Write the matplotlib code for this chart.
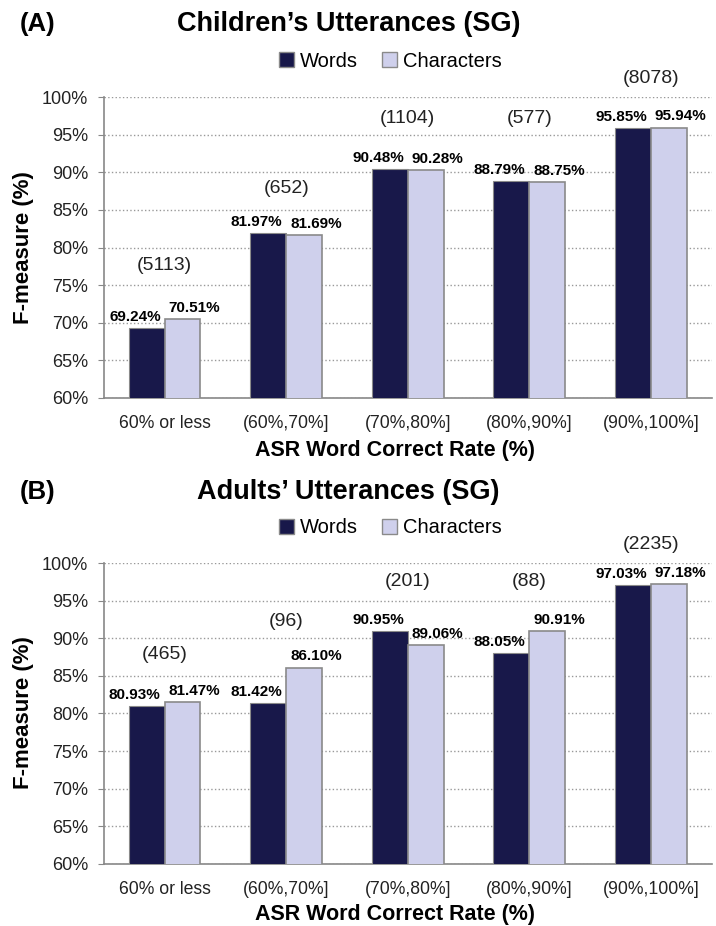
import numpy as np
import matplotlib
matplotlib.use("Agg")
import matplotlib.pyplot as plt
from matplotlib.patches import Patch

plt.rcParams['font.family'] = ['Liberation Sans', 'DejaVu Sans']

categories = ['60% or less', '(60%,70%]', '(70%,80%]', '(80%,90%]', '(90%,100%]']
series_names = ['Words', 'Characters']

children_words = [69.24, 81.97, 90.48, 88.79, 95.85]
children_chars = [70.51, 81.69, 90.28, 88.75, 95.94]
children_counts = [5113, 652, 1104, 577, 8078]

adults_words = [80.93, 81.42, 90.95, 88.05, 97.03]
adults_chars = [81.47, 86.10, 89.06, 90.91, 97.18]
adults_counts = [465, 96, 201, 88, 2235]

# where the (n) labels sit, in data units
children_count_y = [77.6, 87.8, 97.2, 97.2, 102.4]
adults_count_y = [87.9, 92.2, 97.5, 97.5, 102.4]

yticks = [60, 65, 70, 75, 80, 85, 90, 95, 100]

WORD_COL = '#18184a'
CHAR_COL = '#cfd0ec'
EDGE_COL = '#8a8a8a'

fig = plt.figure(figsize=(7.16, 9.26), dpi=100)


def draw_panel(rect, tag, title, words, chars, counts, count_y, title_y, legend_y, xlab_y, ylab_y):
    ax = fig.add_axes(rect)
    x = np.arange(len(categories))
    w = 0.295
    ax.bar(x - w / 2, words, w, color=WORD_COL, edgecolor=EDGE_COL, linewidth=0.8, zorder=3)
    ax.bar(x + w / 2, chars, w, color=CHAR_COL, edgecolor=EDGE_COL, linewidth=1.2, zorder=3)

    for i in range(len(categories)):
        ax.annotate('%.2f%%' % words[i], (x[i] - w / 2, words[i]), xytext=(-8.5, 3),
                    textcoords='offset points', ha='center', va='bottom',
                    fontsize=11, fontweight='bold')
        ax.annotate('%.2f%%' % chars[i], (x[i] + w / 2, chars[i]), xytext=(8.5, 3),
                    textcoords='offset points', ha='center', va='bottom',
                    fontsize=11, fontweight='bold')
        ax.text(x[i], count_y[i], '(%d)' % counts[i], ha='center', va='center',
                fontsize=14, color='#222222', clip_on=False)

    ax.set_xlim(-0.5, len(categories) - 0.5)
    ax.set_ylim(60, 100)
    ax.set_yticks(yticks)
    ax.set_yticklabels(['%d%%' % t for t in yticks], fontsize=13, color='#222222')
    ax.set_xticks(x)
    ax.set_xticklabels(categories, fontsize=12.7, color='#222222')
    ax.tick_params(axis='x', length=0, pad=12)
    ax.tick_params(axis='y', length=4.3, color='#888888', pad=7)
    ax.grid(axis='y', linestyle=':', color='#999999', linewidth=1, zorder=0)
    ax.set_axisbelow(True)
    for s in ['top', 'right']:
        ax.spines[s].set_visible(False)
    for s in ['left', 'bottom']:
        ax.spines[s].set_color('#888888')
        ax.spines[s].set_linewidth(1.2)

    fig.text(0.028, title_y, tag, fontsize=18.5, fontweight='bold', va='center')
    fig.text(0.487, title_y, title, fontsize=19.5, fontweight='bold', va='center', ha='center')
    handles = [Patch(facecolor=WORD_COL, edgecolor=EDGE_COL), Patch(facecolor=CHAR_COL, edgecolor=EDGE_COL)]
    fig.legend(handles, series_names, loc='center', bbox_to_anchor=(0.545, legend_y), ncol=2,
               frameon=False, fontsize=14.5, handlelength=0.75, handleheight=0.75,
               handletextpad=0.3, columnspacing=1.2)
    fig.text(0.552, xlab_y, 'ASR Word Correct Rate (%)', fontsize=15.5, fontweight='bold',
             ha='center', va='center')
    fig.text(0.033, ylab_y, 'F-measure (%)', fontsize=16, fontweight='bold',
             ha='center', va='center', rotation=90)
    return ax


draw_panel([0.145, 0.5702, 0.849, 0.325], '(A)', 'Children\u2019s Utterances (SG)',
           children_words, children_chars, children_counts, children_count_y,
           0.974, 0.934, 0.514, 0.733)
draw_panel([0.145, 0.0670, 0.849, 0.325], '(B)', 'Adults\u2019 Utterances (SG)',
           adults_words, adults_chars, adults_counts, adults_count_y,
           0.469, 0.430, 0.012, 0.23)

fig.savefig('out.png', dpi=100)
